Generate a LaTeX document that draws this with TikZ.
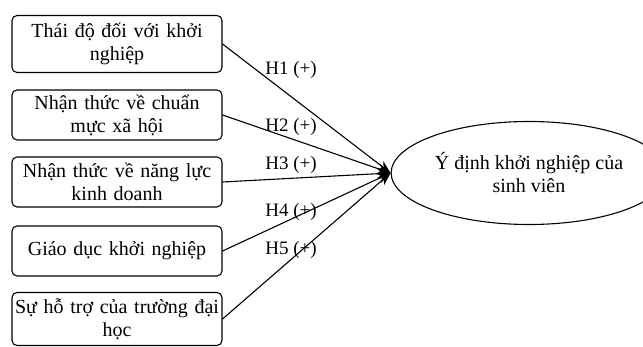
\documentclass[tikz,border=0pt]{standalone}
\usepackage{fontspec}
\setmainfont{Liberation Serif}
\usetikzlibrary{shapes.geometric,arrows.meta}
\begin{document}
\begin{tikzpicture}[x=1pt,y=-1pt,line join=round,line cap=round,
	>={Stealth[length=13pt,width=10pt]},
	box/.style={draw,line width=1.1pt,rounded corners=5pt,minimum width=210pt,text width=208pt,align=center,inner sep=1pt,font=\fontsize{20}{23}\selectfont},
	hyp/.style={font=\fontsize{19}{22}\selectfont,inner sep=1pt}]
	\useasboundingbox (0,0) rectangle (643,347);
	\node[box,minimum height=57pt] (b1) at (117,44) {Thái độ đối với khởi\\nghiệp};
	\node[box,minimum height=50pt] (b2) at (117,115) {Nhận thức về chuẩn\\mực xã hội};
	\node[box,minimum height=50pt] (b3) at (117,182) {Nhận thức về năng lực\\kinh doanh};
	\node[box,minimum height=50pt] (b4) at (117,251) {Giáo dục khởi nghiệp};
	\node[box,minimum height=53pt] (b5) at (117,319) {Sự hỗ trợ của trường đại\\học};
	\node[draw,line width=1.1pt,ellipse,minimum width=226pt,minimum height=103pt,align=center,font=\fontsize{20}{23}\selectfont] (goal) at (529,173) {Ý định khởi nghiệp của\\sinh viên};
	\foreach \b/\yy/\t in {b1/70/H1,b2/127/H2,b3/165/H3,b4/212/H4,b5/250/H5}{
		\draw[->,line width=1.1pt] (\b.east) -- (goal.west);
		\node[hyp] (l\b) at (291,\yy) {\t{} (+)};
	}
\end{tikzpicture}
\end{document}
